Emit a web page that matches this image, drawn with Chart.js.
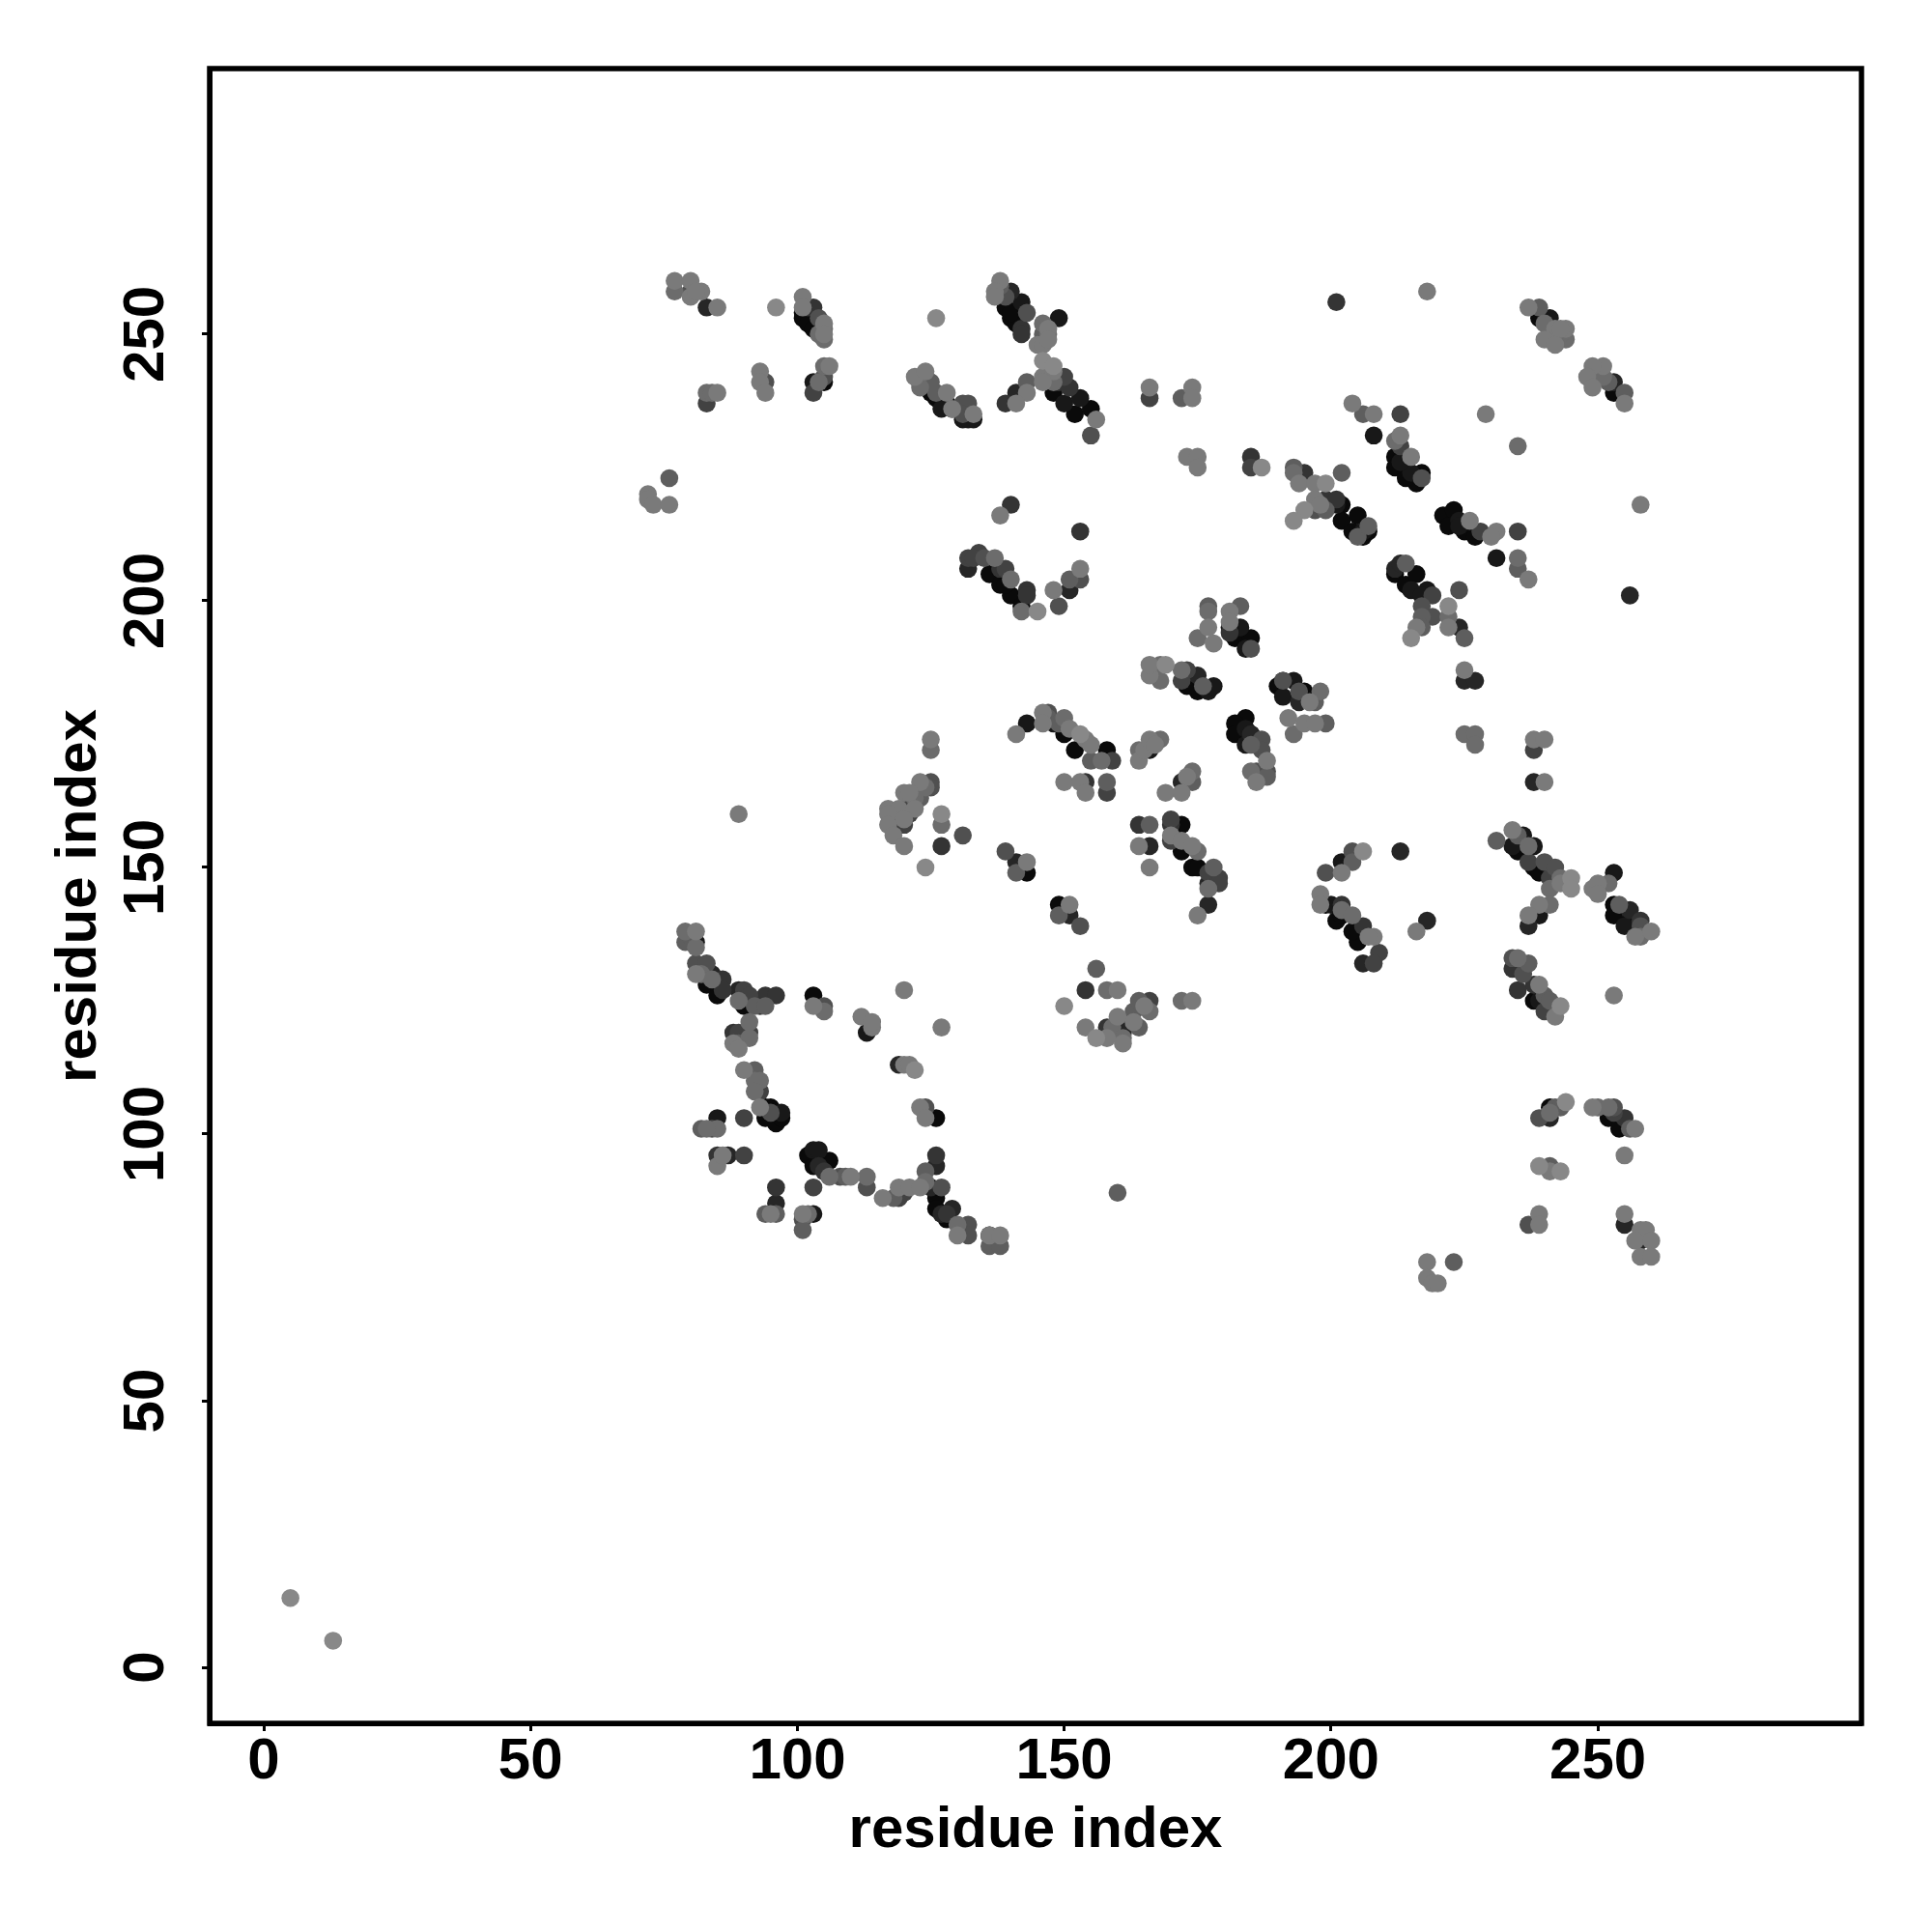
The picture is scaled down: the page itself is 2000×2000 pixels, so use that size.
<!DOCTYPE html>
<html>
<head>
<meta charset="utf-8">
<title>residue contacts</title>
<script src="https://cdn.jsdelivr.net/npm/chart.js@4/dist/chart.umd.min.js"></script>
<style>
body { margin: 0; background: #fff; }
</style>
</head>
<body>
<canvas id="contactChart" width="2000" height="2000"></canvas>
<script>
// each contact: residue i, residue j, strength (0 weak .. 9 strong)
var topLeft = [[77,260,1],[77,258,2],[80,260,1],[80,257,1],[80,258,4],[82,258,1],[81,258,1],[83,255,7],[85,255,1],[96,255,0],
	[83,237,5],[83,239,2],[84,239,2],[85,239,1],[93,243,1],[93,241,1],[94,241,4],[94,239,1],
	[103,241,8],[103,239,5],[104,241,2],[105,241,9],[105,242,4],[105,244,2],[106,244,1],
	[76,223,3],[72,220,1],[72,219,1],[73,218,1],[76,218,1]];
var topBlock = [[101,254,9],[101,253,9],[102,252,9],[103,251,9],[101,257,1],[101,255,1],[102,255,6],[103,255,6],[104,253,4],[105,252,1],[105,251,2],[104,250,2],[105,249,2],[105,250,1]];
var lowerDiag = [[126,253,0],[122,242,1],[124,243,1],[123,240,2],[123,241,9],[124,240,9],[125,239,9],[126,238,9],[127,238,9],[128,237,9],[129,236,9],
	[125,241,3],[128,239,1],[126,239,3],[131,237,4],[132,237,4],[129,236,1],[133,235,1],[131,234,8],[133,234,8],[132,234,8],[131,235,4],[127,236,8]];
var crossUpper = [[138,260,1],[137,258,1],[137,257,1],[138,259,3],[140,258,7],[139,257,4],[142,256,8],[139,255,9],[140,253,9],[143,254,4],[142,251,6],[149,253,8],
	[146,252,2],[147,251,1],[145,248,1],[146,248,1],[147,249,1],[147,250,2],[146,250,3],[141,252,9],[142,250,6],[140,254,9]];
var crossLower = [[146,245,0],[146,242,1],[148,244,0],[148,243,1],[146,241,1],[148,241,2],[150,242,5],[149,241,6],[151,240,6],[148,239,9],[150,237,8],[153,238,8],[152,235,9],[155,236,9],[155,231,4],[156,234,1],
	[141,239,7],[143,241,3],[143,239,1],[139,237,6],[141,237,1]];
var midUpper = [[140,218,6],[138,216,1],[153,213,6],[132,206,7],[132,208,5],[134,209,5],[133,208,5],[135,208,4],[137,208,2],[136,205,9],[138,203,9],[138,206,6],[139,206,5],[140,204,2],
	[143,202,6],[143,201,6],[140,201,9],[142,199,9],[142,198,2],[145,198,0],[139,203,9],
	[149,199,4],[148,202,1],[151,202,7],[153,204,4],[151,204,3],[153,206,1]];
var rightTop = [[201,256,6],[218,258,1],[237,255,1],[239,255,3],[239,253,9],[241,253,8],[240,252,2],[242,251,1],[244,251,1],[243,251,1],[240,249,1],[242,248,1],[244,249,2],[243,250,2],[242,250,3],[241,251,3],
	[251,244,1],[249,244,1],[250,243,2],[248,242,1],[249,240,1],[249,242,4],[251,242,2],[253,241,7],[253,239,9],[255,239,3],[255,237,1],[252,241,3]];
var centreTop = [[166,240,1],[166,238,5],[174,240,1],[172,238,3],[174,238,1],[173,227,1],[175,227,1],[175,225,1],[185,227,6],[185,225,5],[187,225,0],
	[193,225,3],[193,224,2],[195,224,6],[202,224,3],[194,222,1],[197,222,1],[199,222,0],[195,217,0],[193,215,0],
	[197,219,1],[197,217,4],[199,219,6],[199,217,3],[201,219,6],[202,218,9],[201,218,8],[198,218,1],
	[202,215,9],[205,216,9],[204,213,9],[205,212,3],[206,212,9],[207,214,3],[206,213,8],[207,213,9]];
var diagUpperRight = [[204,237,1],[206,235,3],[208,235,1],[213,235,5],[208,231,8],[229,235,1],[235,229,2],[213,231,1],[212,230,2],[213,229,5],[215,227,1],[212,227,9],[212,225,9],[214,224,9],[216,222,9],[217,224,9],[217,223,4],[215,224,8],[213,226,8],[214,223,9],
	[258,218,1],[221,216,9],[223,217,9],[222,214,9],[224,215,8],[226,215,1],[225,213,9],[227,212,9],[228,213,5],[231,213,1],[230,212,1],[235,213,5],[224,214,8],
	[231,208,8],[235,208,2],[235,206,3],[237,204,1],[256,201,7]];
var diagLowerRight = [[212,206,7],[214,207,3],[213,207,7],[212,205,9],[214,203,9],[216,205,9],[215,202,8],[218,202,8],[219,201,5],[224,202,4],[222,199,0],[217,199,4],[217,197,3],[219,197,4],[222,197,2],[216,195,1],[222,195,1],[224,195,7],[225,193,3],[215,193,0],[217,201,8],[217,195,3],
	[177,199,3],[177,198,2],[177,195,1],[175,193,2],[178,192,1],[181,198,1],[183,199,3],[181,196,1],[181,194,6],[183,195,8],[182,193,9],[185,193,9],[184,191,8],[185,191,4],[181,195,8]];
var rightGap = [[225,187,1],[225,185,7],[227,185,7],[225,175,2],[227,175,2],[227,173,2],[238,174,1],[240,174,1],[238,172,5],[238,166,7],[240,166,1]];
var centreRows = [[166,186,1],[166,188,1],[168,188,2],[168,185,2],[167,187,3],[169,188,0],[172,187,2],[173,187,5],[175,186,7],[172,185,5],[175,183,9],[177,183,8],[178,184,8],[173,184,9],[176,184,3],
	[190,184,9],[191,185,8],[193,185,8],[191,185,4],[191,182,8],[195,183,9],[194,183,4],[196,181,1],[194,181,7],[197,181,3],[198,183,2],
	[192,178,1],[193,175,2],[195,177,1],[197,177,1],[199,177,3],
	[184,178,9],[182,177,9],[182,175,9],[185,173,3],[185,175,7],[187,174,4],[184,176,8],[187,172,4],[188,170,1],[185,168,2],[186,168,4],[188,168,4],[186,166,1],[188,167,3],[184,173,8],[185,175,8]];
var centreLeft = [[141,175,1],[143,177,8],[146,179,1],[147,179,4],[146,177,1],[147,178,3],[148,177,8],[150,178,2],[149,177,3],[150,175,9],[151,176,1],[153,175,0],[154,174,1],[155,173,1],[152,172,9],[158,172,9],[155,170,3],[159,170,5],[157,170,2],
	[150,166,1],[153,166,1],[154,166,6],[154,164,1],[158,166,3],[158,164,5],
	[164,170,1],[164,172,2],[165,172,1],[166,172,8],[166,174,1],[167,173,1],[168,174,2],
	[174,168,2],[174,166,3],[172,166,7],[173,167,1],[169,164,1],[172,164,1]];
var centreLower = [[164,158,6],[166,158,3],[164,154,1],[166,154,7],[166,150,1],[170,159,5],[170,158,6],[170,155,5],[170,156,1],[172,158,9],[172,153,9],[172,155,1],[174,154,1],[175,153,2],[174,150,9],[177,149,5],[178,150,3],[177,146,2],[179,148,5],[179,147,5],[177,143,7],[175,141,1],[177,147,7],[175,150,9]];
var leftMiddle = [[125,174,1],[125,172,2],[125,166,4],[123,166,1],[125,165,4],[124,165,2],[123,163,3],[120,164,1],[121,164,1],[122,163,2],[117,161,1],[119,161,1],[117,160,1],[120,161,5],[122,161,1],[121,160,5],[119,159,8],[120,158,5],[120,159,1],[117,158,1],[118,156,1],[120,154,1],[124,150,0],
	[127,160,0],[127,158,2],[131,156,4],[127,154,6],[89,160,1],
	[139,153,4],[141,151,7],[141,149,3],[143,151,1],[143,149,9],[149,143,9],[149,141,3],[151,141,7],[151,143,1],[153,139,4]];
var lowerCentre = [[156,131,3],[154,127,6],[158,127,2],[160,127,1],[150,124,0],[154,120,1],[156,118,0],[158,118,1],[158,120,6],[159,120,2],[160,121,8],[160,122,1],[161,119,7],[161,117,1],[161,118,2],[163,121,1],[164,120,3],[163,123,3],[164,125,3],[165,124,1],[166,125,5],[166,123,2],[172,125,2],[174,125,1],[160,89,3]];
var rightCentre = [[199,149,4],[202,149,1],[202,151,8],[204,151,3],[204,153,4],[206,153,0],[213,153,7],
	[198,145,1],[198,143,1],[199,143,9],[200,143,8],[202,143,6],[201,140,9],[202,142,2],[204,141,2],[206,139,6],[205,136,9],[208,137,1],[207,137,1],[209,134,5],[206,132,7],[208,132,5],[202,141,9],[204,138,9],
	[218,140,7],[216,138,1]];
var rightCross = [[231,155,3],[234,157,1],[236,156,8],[235,156,3],[238,154,8],[234,154,8],[235,153,9],[237,154,2],[237,151,5],[238,150,9],[240,151,4],[242,150,4],[239,149,9],[241,146,2],[243,147,1],[245,148,0],[245,146,0],[243,148,2],[241,148,5],
	[249,146,1],[250,147,1],[250,145,1],[252,147,2],[253,149,8],[253,143,9],[254,143,3],[253,141,9],[256,142,7],[255,139,8],[258,140,6],[257,137,1],[258,137,2],[260,138,1],[256,140,9],[258,139,4],
	[239,143,1],[241,143,2],[239,141,8],[237,141,1],[237,139,7]];
var rightLower = [[234,133,4],[235,133,2],[234,131,6],[237,132,3],[236,130,4],[239,128,1],[238,128,6],[235,127,6],[238,125,9],[240,126,3],[243,124,0],[240,123,5],[242,122,1],[239,125,8],[241,125,3],[253,126,1],
	[239,103,4],[241,103,7],[241,105,9],[242,105,3],[244,106,0],[241,104,2],[243,105,3],
	[249,105,1],[250,105,2],[252,105,2],[253,105,4],[252,103,9],[255,103,6],[254,101,9],[257,101,1],[256,101,3],[253,104,5],[255,96,1],
	[239,94,0],[241,94,3],[241,93,1],[243,93,0],[239,85,1],[239,83,1],[237,83,4],[255,85,1],[255,83,7],[258,82,1],[259,82,1],[257,80,1],[258,80,7],[260,80,1],[258,77,1],[260,77,1],
	[218,76,1],[223,76,3],[218,73,1],[219,72,1],[220,72,1]];
var leftArm = [[79,138,2],[79,136,3],[81,138,1],[81,136,8],[81,135,2],[80,137,3],[81,132,4],[83,132,4],[81,130,1],[82,130,2],[84,130,7],[83,128,9],[86,129,6],[86,127,6],[85,126,9],[84,129,2],
	[89,127,7],[90,127,5],[91,126,5],[89,125,2],[90,124,9],[92,124,3],[94,126,6],[96,126,6],[94,124,3],[93,124,6],
	[91,121,2],[91,119,5],[89,119,5],[88,119,6],[89,117,3],[88,117,1],[91,118,2],[89,116,1],
	[90,112,1],[92,112,3],[93,110,2],[92,110,2],[92,108,2],[93,108,5],[93,105,1],[95,105,9],[94,105,9],[94,103,9],[97,104,8],[96,102,9],[97,103,9],[95,104,4],
	[85,103,8],[90,103,5],[85,101,2],[82,101,3],[83,101,2],[84,101,4],[85,96,6],[87,96,7],[90,96,5],[85,94,1],[86,96,1]];
var bottomArm = [[102,96,9],[103,97,8],[104,97,8],[103,94,9],[104,94,7],[106,95,9],[105,93,6],[106,92,2],[108,92,4],[110,92,1],[109,92,3],[113,92,2],[113,90,4],[116,88,1],[118,88,3],[119,88,5],[120,89,5],[119,90,1],[121,90,1],[123,90,1],
	[124,93,3],[126,96,6],[126,94,7],[124,91,2],[125,90,7],[127,90,4],[126,88,9],[126,86,9],[129,86,7],[128,84,9],[127,85,7],[128,85,6],[132,83,4],[130,81,1],[132,81,4],[130,83,2],[136,81,1],[138,81,1],[136,81,9],[136,79,3],[138,79,3]];
var innerSpots = [[103,126,9],[103,124,1],[105,124,4],[105,123,2],[112,122,1],[114,120,1],[114,121,1],[113,119,8],[120,127,1],[127,120,1],
	[119,113,7],[120,113,1],[121,113,1],[122,112,0],[123,105,1],[124,105,4],[124,103,1],[126,103,9],
	[96,90,6],[96,87,7],[96,85,3],[94,85,3],[95,85,1],[103,85,8],[103,90,5],[101,85,1],[102,85,2],[101,82,3],[101,84,4]];
var farCorner = [[5,13,0],[13,5,0]];

var contactGroups = [topLeft, topBlock, lowerDiag, crossUpper, crossLower, midUpper, rightTop, centreTop, diagUpperRight, diagLowerRight, rightGap, centreRows, centreLeft, centreLower, leftMiddle, lowerCentre, rightCentre, rightCross, rightLower, leftArm, bottomArm, innerSpots, farCorner];
var tickValues = [0, 50, 100, 150, 200, 250];
var axisTitle = "residue index";

var contacts = [];
contactGroups.forEach(function(group){
	// strongest first so the pale ones end up on top, like the original
	group.slice().sort(function(a, b){ return b[2] - a[2]; }).forEach(function(c){
		contacts.push({x: c[0], y: c[1], strength: c[2]});
	});
});

function greyOf(strength){
	var g = 136 - 14 * strength;
	return "rgb(" + g + "," + g + "," + g + ")";
}

var labelFont = {family: "'Liberation Sans'", size: 60, weight: "bold"};
var titleFont = {family: "'Liberation Sans'", size: 60, weight: "bold"};

function sharedScale(min, max){
	return {
		type: "linear",
		min: min,
		max: max,
		afterBuildTicks: function(scale){
			scale.ticks = tickValues.map(function(v){ return {value: v}; });
		},
		grid: {display: true, drawOnChartArea: false, drawTicks: true, tickLength: 8, tickWidth: 3, tickColor: "#000"},
		border: {display: true, color: "#000", width: 5}
	};
}

var xScale = sharedScale(-10.14, 299.4);
xScale.position = "bottom";
xScale.ticks = {font: labelFont, color: "#000", padding: -4, maxRotation: 0, autoSkip: false};
xScale.title = {display: true, text: axisTitle, font: titleFont, color: "#000", padding: {top: 0, bottom: 69}};
xScale.afterFit = function(scale){ scale.height = 216; };

var yScale = sharedScale(-10.5, 299.8);
yScale.position = "left";
yScale.ticks = {font: labelFont, color: "#000", padding: 6, minRotation: 90, maxRotation: 90, crossAlign: "center", autoSkip: false};
yScale.title = {display: true, text: axisTitle, font: titleFont, color: "#000", padding: {top: 46, bottom: 0}};
yScale.afterFit = function(scale){ scale.width = 217; };

var frameBox = {
	id: "frameBox",
	afterDraw: function(chart){
		var a = chart.chartArea, ctx = chart.ctx;
		ctx.save();
		ctx.strokeStyle = "#000";
		ctx.lineWidth = 5.5;
		ctx.lineJoin = "miter";
		ctx.strokeRect(a.left, a.top, a.right - a.left, a.bottom - a.top);
		ctx.restore();
	}
};

new Chart(document.getElementById("contactChart").getContext("2d"), {
	type: "scatter",
	data: {
		datasets: [{
			label: "contacts",
			data: contacts,
			pointRadius: 9.3,
			pointHoverRadius: 9.3,
			pointBorderWidth: 0,
			pointBackgroundColor: contacts.map(function(c){ return greyOf(c.strength); })
		}]
	},
	options: {
		responsive: false,
		animation: false,
		layout: {padding: {top: 71, right: 73, left: 0, bottom: 0}},
		plugins: {legend: {display: false}, tooltip: {enabled: false}},
		scales: {x: xScale, y: yScale}
	},
	plugins: [frameBox]
});
</script>
</body>
</html>
